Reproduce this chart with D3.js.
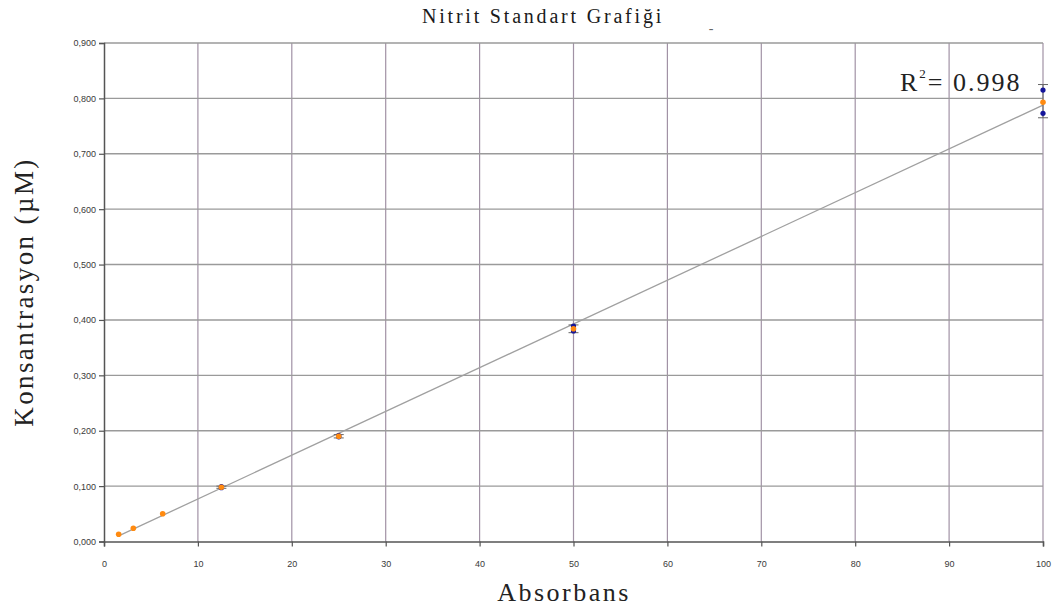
<!DOCTYPE html>
<html>
<head>
<meta charset="utf-8">
<script src="https://cdn.jsdelivr.net/npm/d3@7"></script>
<style>
  body { margin: 0; background: #fff; }
  svg { display: block; }
</style>
</head>
<body>
<svg width="1056" height="610"></svg>
<script>
// dilution series (x) and measured values (y)
var conc = [1.5625, 3.125, 6.25, 12.5, 25, 50, 100];
var means = [0.013, 0.024, 0.050, 0.098, 0.190, 0.384, 0.793];

// replicate points and error bar limits where they show
var repX = [12.5, 12.5, 25, 25, 50, 50, 100, 100];
var repY = [0.099, 0.097, 0.191, 0.189, 0.389, 0.380, 0.815, 0.773];
var errX = [12.5, 25, 50, 100];
var errLow = [0.096, 0.187, 0.377, 0.765];
var errHigh = [0.100, 0.193, 0.391, 0.825];

var xTicks = [0, 10, 20, 30, 40, 50, 60, 70, 80, 90, 100];
var yTicks = [0, 0.1, 0.2, 0.3, 0.4, 0.5, 0.6, 0.7, 0.8, 0.9];
var r2 = 0.998;

var svg = d3.select('svg');
var mLeft = 104, mRight = 1043, mTop = 43, mBottom = 541.5;

var scaleX = d3.scaleLinear().domain([0, 100]).range([mLeft, mRight]);
var scaleY = d3.scaleLinear().domain([0, 0.9]).range([mBottom, mTop]);

// grid
svg.append('g').selectAll('line').data(xTicks.slice(1)).enter().append('line')
    .attr('x1', function(d){ return scaleX(d); })
    .attr('x2', function(d){ return scaleX(d); })
    .attr('y1', mTop).attr('y2', mBottom)
    .attr('stroke', '#a192a5').attr('stroke-width', 1.2);

svg.append('g').selectAll('line').data(yTicks.slice(1)).enter().append('line')
    .attr('x1', mLeft).attr('x2', mRight)
    .attr('y1', function(d){ return scaleY(d); })
    .attr('y2', function(d){ return scaleY(d); })
    .attr('stroke', '#9a9a9a').attr('stroke-width', 1.4);

var fmt = function(d){ return d3.format('.3f')(d).replace('.', ','); };

var yAxis = svg.append('g')
    .attr('transform', 'translate(' + mLeft + ',0)')
    .call(d3.axisLeft(scaleY).tickValues(yTicks).tickSize(5).tickPadding(3).tickFormat(fmt));
var xAxis = svg.append('g')
    .attr('transform', 'translate(0,' + mBottom + ')')
    .call(d3.axisBottom(scaleX).tickValues(xTicks).tickSize(5).tickPadding(14));

[yAxis, xAxis].forEach(function(a){
    a.select('.domain').attr('stroke', '#555').attr('stroke-width', 1.5);
    a.selectAll('.tick line').attr('stroke', '#555').attr('stroke-width', 1.2);
    a.selectAll('text').attr('font-family', 'Liberation Sans, Arial, sans-serif')
        .attr('font-size', 9).attr('fill', '#3a3a3a');
});

// least squares trend line
var mx = d3.mean(conc), my = d3.mean(means);
var sxy = d3.sum(conc, function(x, i){ return (x - mx) * (means[i] - my); });
var sxx = d3.sum(conc, function(x){ return (x - mx) * (x - mx); });
var slope = sxy / sxx, icpt = my - slope * mx;
var xr = d3.extent(conc);

svg.append('line')
    .attr('x1', scaleX(xr[0])).attr('y1', scaleY(icpt + slope * xr[0]))
    .attr('x2', scaleX(xr[1])).attr('y2', scaleY(icpt + slope * xr[1]))
    .attr('stroke', '#a0a0a0').attr('stroke-width', 1.3);

// error bars
var eb = svg.append('g').attr('stroke', '#666').attr('stroke-width', 1);
errX.forEach(function(x, i){
    eb.append('line').attr('x1', scaleX(x)).attr('x2', scaleX(x))
        .attr('y1', scaleY(errLow[i])).attr('y2', scaleY(errHigh[i]));
    [errLow[i], errHigh[i]].forEach(function(v){
        eb.append('line').attr('x1', scaleX(x) - 5).attr('x2', scaleX(x) + 5)
            .attr('y1', scaleY(v)).attr('y2', scaleY(v));
    });
});

svg.append('g').selectAll('circle').data(repX).enter().append('circle')
    .attr('cx', function(d){ return scaleX(d); })
    .attr('cy', function(d, i){ return scaleY(repY[i]); })
    .attr('r', 2.6).attr('fill', '#15159a');

svg.append('g').selectAll('circle').data(conc).enter().append('circle')
    .attr('cx', function(d){ return scaleX(d); })
    .attr('cy', function(d, i){ return scaleY(means[i]); })
    .attr('r', 2.8).attr('fill', '#ff8a10');

// texts
var serif = 'Liberation Serif, Times New Roman, serif';
svg.append('text').attr('x', 543).attr('y', 23).attr('text-anchor', 'middle')
    .attr('font-family', serif).attr('font-size', 20).attr('letter-spacing', 2.8)
    .attr('fill', '#1a1a1a').text('Nitrit Standart Grafiği');
svg.append('text').attr('x', 711).attr('y', 33).attr('text-anchor', 'middle')
    .attr('font-family', serif).attr('font-size', 14).attr('fill', '#666').text('-');

svg.append('text').attr('x', 564).attr('y', 601).attr('text-anchor', 'middle')
    .attr('font-family', serif).attr('font-size', 26).attr('letter-spacing', 2.5)
    .attr('fill', '#222').text('Absorbans');

svg.append('text').attr('transform', 'translate(33,292) rotate(-90)').attr('text-anchor', 'middle')
    .attr('font-family', serif).attr('font-size', 27).attr('letter-spacing', 2.4)
    .attr('fill', '#222').text('Konsantrasyon (µM)');

var rt = svg.append('text').attr('x', 900).attr('y', 91)
    .attr('font-family', serif).attr('font-size', 26).attr('letter-spacing', 2)
    .attr('fill', '#222');
rt.append('tspan').text('R');
rt.append('tspan').attr('font-size', 13).attr('dy', -13).text('2');
rt.append('tspan').attr('dy', 13).text('= ' + r2);
</script>
</body>
</html>
